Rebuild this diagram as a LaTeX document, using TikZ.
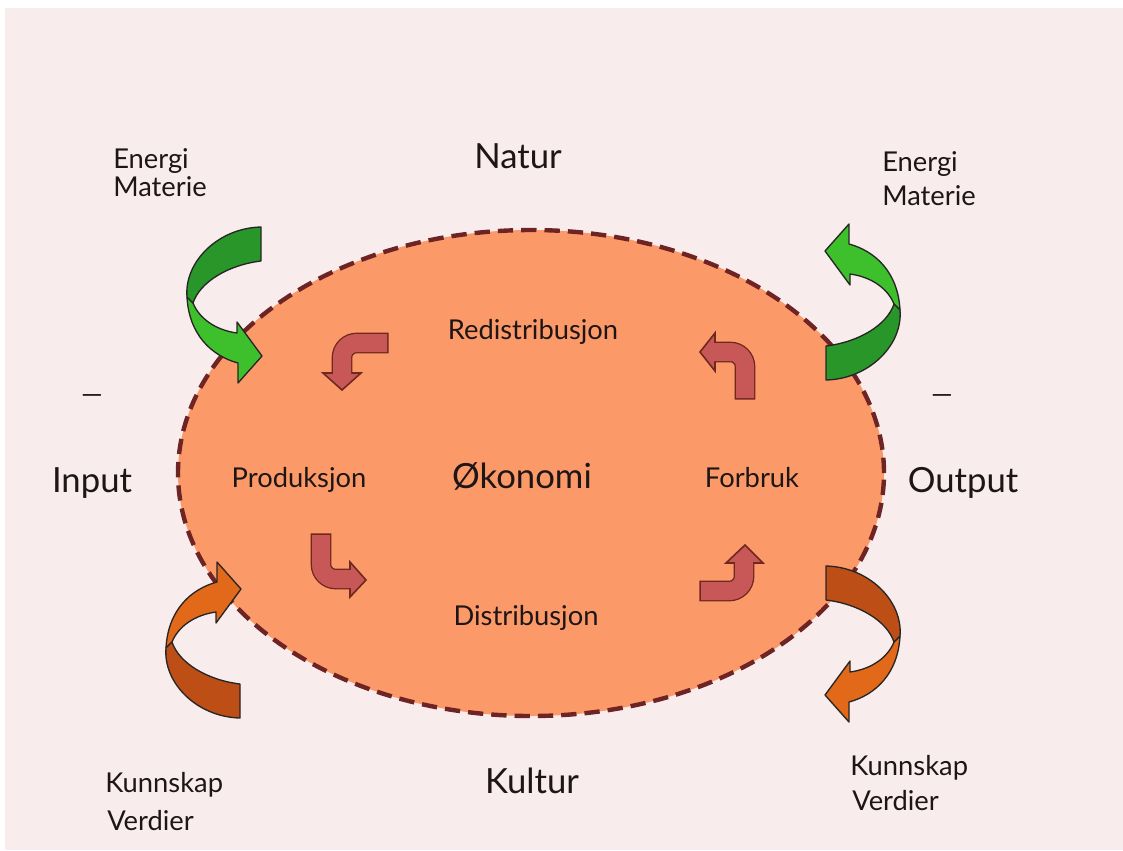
\documentclass[tikz,border=0pt]{standalone}
\usepackage{fontspec}
\setmainfont{Lato}
\definecolor{bg}{RGB}{248,237,236}
\definecolor{ellfill}{RGB}{251,154,104}
\definecolor{elldash}{RGB}{110,36,36}
\definecolor{gdark}{RGB}{40,150,40}
\definecolor{glight}{RGB}{62,192,44}
\definecolor{odark}{RGB}{188,78,22}
\definecolor{olight}{RGB}{226,104,26}
\definecolor{rfill}{RGB}{200,88,88}
\definecolor{rline}{RGB}{110,40,30}
\definecolor{txt}{RGB}{30,22,22}
\tikzset{
  bigedge/.style={draw=black!85, line width=1pt, line join=round},
  biglabel/.style={text=txt, font=\fontsize{26}{30}\selectfont, inner sep=0pt},
  smalllabel/.style={text=txt, font=\fontsize{20.5}{24}\selectfont, inner sep=0pt},
}
\newcommand\bigarrowshape[3]{%
  \begin{scope}[#1]
    \filldraw[fill=#3, bigedge] (187,297) .. controls (189,335) and (212,356) .. (238,363)
      -- (238,383) -- (262,356) -- (237,322) -- (237,333)
      .. controls (215,330) and (199,318) .. (193,303) -- cycle;
    \filldraw[fill=#2, bigedge] (261,227) -- (261,261)
      .. controls (228,265) and (200,282) .. (193,303) -- (187,297)
      .. controls (184,262) and (218,228) .. (261,227) -- cycle;
  \end{scope}}
\newcommand\redarrow[4]{%
  \draw[rline, line width=15.5pt, rounded corners=11pt, shorten <=-1.2pt] #1 -- #2 -- #3;
  \filldraw[fill=rfill, draw=rline, line width=1.2pt, line join=miter] #4 -- cycle;
  \draw[rfill, line width=13.5pt, rounded corners=11pt, shorten >=-2pt] #1 -- #2 -- #3;}
\begin{document}
\begin{tikzpicture}[x=0.75pt, y=-0.75pt]
\useasboundingbox (0,0) rectangle (1123,850);
\fill[white] (0,0) rectangle (1123,850);
\fill[bg] (5,8) rectangle (1123,850);
% economy ellipse
\filldraw[fill=ellfill, draw=elldash, line width=3.3pt, dash pattern=on 11.5pt off 6pt]
  (531,473) ellipse [x radius=264.75pt, y radius=182.25pt];
% big twisted arrows
\bigarrowshape{}{gdark}{glight}
\bigarrowshape{shift={(1087,607)}, rotate=180}{gdark}{glight}
\bigarrowshape{shift={(-21,945)}, yscale=-1}{odark}{olight}
\bigarrowshape{shift={(1087,339)}, xscale=-1}{odark}{olight}
% inner cycle arrows
\redarrow{(387,343)}{(342,343)}{(342,373)}{(323,373) -- (361,373) -- (342,390)}
\redarrow{(745,398)}{(745,352)}{(715,352)}{(715,333) -- (715,371) -- (700,352)}
\redarrow{(321,535)}{(321,579)}{(350,579)}{(350,562) -- (350,597) -- (366,580)}
\redarrow{(701,591)}{(744,591)}{(744,563)}{(726,563) -- (763,563) -- (745,545)}
% labels
\node[biglabel, anchor=mid] (natur) at (518,165) {Natur};
\node[biglabel, anchor=mid] (kultur) at (532,790) {Kultur};
\node[biglabel, anchor=mid] (input) at (92,489) {Input};
\node[biglabel, anchor=mid] (output) at (963,489) {Output};
\node[biglabel, anchor=mid] (okonomi) at (522,485) {Økonomi};
\node[smalllabel, anchor=mid] (dashl) at (92,400) {—};
\node[smalllabel, anchor=mid] (dashr) at (942,400) {—};
\node[smalllabel, anchor=mid] (prod) at (299,484) {Produksjon};
\node[smalllabel, anchor=mid] (forbruk) at (752,484) {Forbruk};
\node[smalllabel, anchor=mid] (redis) at (533,336) {Redistribusjon};
\node[smalllabel, anchor=mid] (dist) at (526,622) {Distribusjon};
\node[smalllabel, anchor=mid west] (energil) at (113,165) {Energi};
\node[smalllabel, anchor=mid west] (materiel) at (113,193) {Materie};
\node[smalllabel, anchor=mid west] (energir) at (882,168) {Energi};
\node[smalllabel, anchor=mid west] (materier) at (882,202) {Materie};
\node[smalllabel, anchor=mid west] (kunnskapl) at (105,789) {Kunnskap};
\node[smalllabel, anchor=mid west] (verdierl) at (107,827) {Verdier};
\node[smalllabel, anchor=mid west] (kunnskapr) at (850,772) {Kunnskap};
\node[smalllabel, anchor=mid west] (verdierr) at (852,807) {Verdier};
\end{tikzpicture}
\end{document}
